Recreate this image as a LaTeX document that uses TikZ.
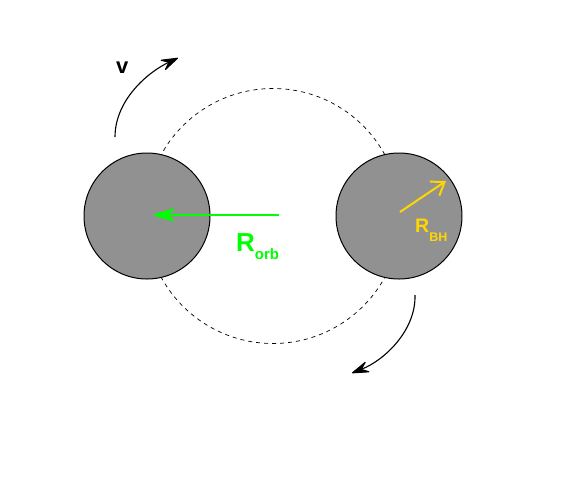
\documentclass[tikz,border=0pt]{standalone}
\usepackage{fontspec}
\setmainfont{Liberation Sans}
\usetikzlibrary{arrows.meta}
\definecolor{bhgray}{RGB}{145,145,145}
\definecolor{orbgreen}{RGB}{0,255,0}
\definecolor{bhyellow}{RGB}{255,215,0}
\tikzset{
  bh/.style={circle,draw=black,line width=1pt,fill=bhgray,minimum size=126pt,inner sep=0pt},
  orbit/.style={circle,draw=black,line width=0.7pt,dash pattern=on 4pt off 4pt,minimum size=255pt,inner sep=0pt},
  motion/.style={line width=1.1pt,-{Stealth[length=20pt,width=13pt,inset=8pt,round]}},
  radorb/.style={draw=orbgreen,line width=2pt,-{Stealth[length=27pt,width=16pt,inset=11pt,round]}},
  radbh/.style={draw=bhyellow,line width=2pt,-{Straight Barb[length=12pt,width=17pt,line width=2pt]}},
  lbl/.style={inner sep=0pt,anchor=base west,font=\bfseries}
}
\begin{document}
\begin{tikzpicture}[x=1pt,y=-1pt]
\useasboundingbox (0,0) rectangle (568,483);
\node[orbit] (O) at (273,216) {};
\node[bh] (L) at (147,216) {};
\node[bh] (R) at (399,216) {};
% orbit radius
\coordinate (gs) at (279,215);
\coordinate (ge) at (154,215);
\draw[radorb] (gs) -- (ge);
\node[lbl,text=orbgreen] (rorb) at (236,251) {\fontsize{26}{26}\selectfont R\raisebox{-8pt}{\fontsize{15}{15}\selectfont orb}};
% black hole radius
\coordinate (ys) at (400,212);
\coordinate (ye) at (446,181);
\draw[radbh] (ys) -- (ye);
\node[lbl,text=bhyellow] (rbh) at (415,232) {\fontsize{19.5}{19.5}\selectfont R\raisebox{-9pt}{\fontsize{12.5}{12.5}\selectfont BH}};
% velocity arrows
\coordinate (a1s) at (115,137);
\coordinate (a1e) at (178,58);
\draw[motion] (a1s) .. controls (115,100) and (148,72) .. (a1e);
\node[lbl] (v) at (116,73) {\fontsize{22}{22}\selectfont v};
\coordinate (a2s) at (415,295);
\coordinate (a2e) at (352,373);
\draw[motion] (a2s) .. controls (416,330) and (385,360) .. (a2e);
\end{tikzpicture}
\end{document}
